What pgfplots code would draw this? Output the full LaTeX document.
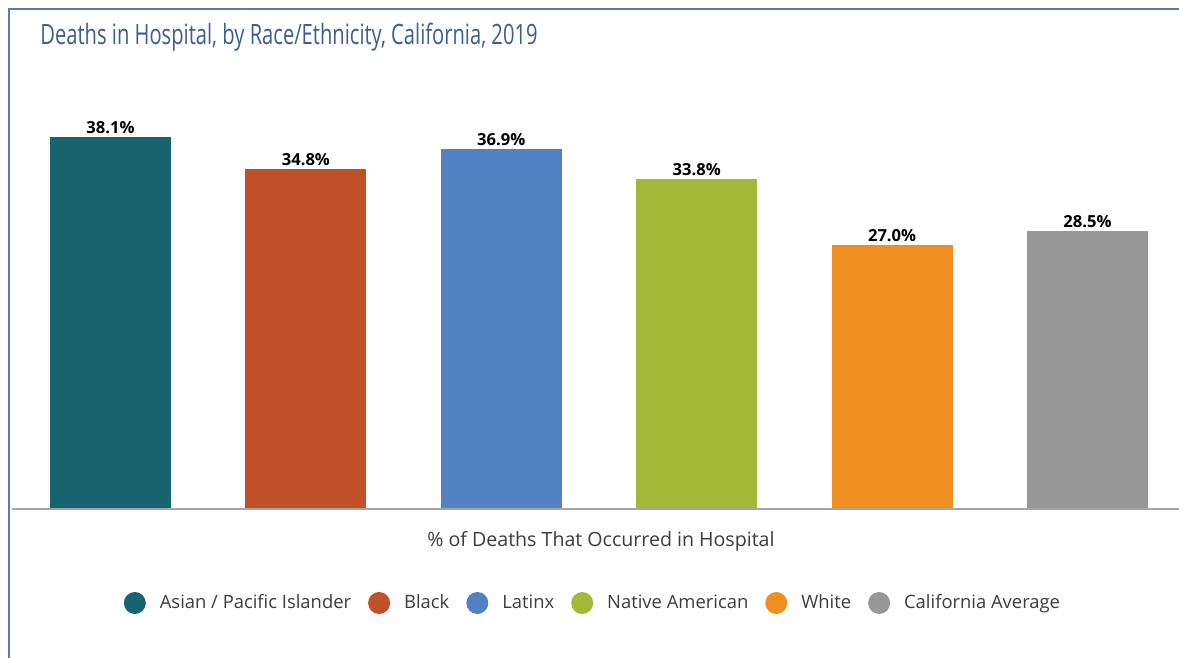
\documentclass[border=0pt]{standalone}
\usepackage{fontspec}
\setmainfont{Open Sans}
\newfontfamily\titlefont{Open Sans}[FakeStretch=0.72]
\usepackage{pgfplots}
\pgfplotsset{compat=1.18}

\definecolor{cAsian}{HTML}{17646E}
\definecolor{cBlack}{HTML}{BF5027}
\definecolor{cLatinx}{HTML}{5281C4}
\definecolor{cNative}{HTML}{A4B837}
\definecolor{cWhite}{HTML}{EF8F22}
\definecolor{cCA}{HTML}{979797}
\definecolor{frame}{HTML}{5F7C9C}
\definecolor{titleblue}{HTML}{3E5E8E}
\definecolor{txt}{HTML}{3C3C3C}

\begin{document}
\begin{tikzpicture}
\useasboundingbox (0,0) rectangle (589.5pt,329pt);
% panel frame: left and top edges
\draw[frame, line width=1pt] (4.25pt,0) -- (4.25pt,324.5pt) -- (589.5pt,324.5pt);

\begin{axis}[
  at={(6pt,74.5pt)}, anchor=south west,
  scale only axis,
  x=97.7pt, y=4.882pt,
  xmin=-0.504, xmax=5.468, ymin=0, ymax=40,
  axis lines=none,
  clip=false,
  /pgf/number format/assume math mode=true,
  ybar, bar width=60.5pt, bar shift=0pt,
  nodes near coords={\pgfmathprintnumber[fixed,fixed zerofill,precision=1]{\pgfplotspointmeta}\%},
  nodes near coords style={font=\bfseries\fontsize{8.3}{10}\selectfont, text=black, anchor=south, inner sep=1.5pt},
  legend columns=6,
  legend image code/.code={\fill[#1] (0pt,0pt) circle (5.5pt);},
  legend style={draw=none, fill=none,
    at={(axis description cs:0.4987,-0.2407)}, anchor=center,
    font=\fontsize{9.2}{11}\selectfont, text=txt,
    /tikz/every odd column/.append style={column sep=5pt},
    /tikz/every even column/.append style={column sep=6.5pt}},
]
\addplot[fill=cAsian, draw=none] coordinates {(0,38.1)};
\addlegendentry{Asian / Pacific Islander}
\addplot[fill=cBlack, draw=none] coordinates {(1,34.8)};
\addlegendentry{Black}
\addplot[fill=cLatinx, draw=none] coordinates {(2,36.9)};
\addlegendentry{Latinx}
\addplot[fill=cNative, draw=none] coordinates {(3,33.8)};
\addlegendentry{Native American}
\addplot[fill=cWhite, draw=none] coordinates {(4,27.0)};
\addlegendentry{White}
\addplot[fill=cCA, draw=none] coordinates {(5,28.5)};
\addlegendentry{California Average}
% baseline
\draw[black!35, line width=0.8pt] (rel axis cs:0,0) -- (rel axis cs:1,0);
\node[font=\fontsize{9.8}{12}\selectfont, text=txt, anchor=center]
  at (axis description cs:0.5047,-0.0820) {\% of Deaths That Occurred in Hospital};
\end{axis}

\node[anchor=base west, inner sep=0pt, font=\titlefont\fontsize{14}{16}\selectfont, text=titleblue]
  at (20pt,306.5pt) {Deaths in Hospital, by Race/Ethnicity, California, 2019};
\end{tikzpicture}
\end{document}
